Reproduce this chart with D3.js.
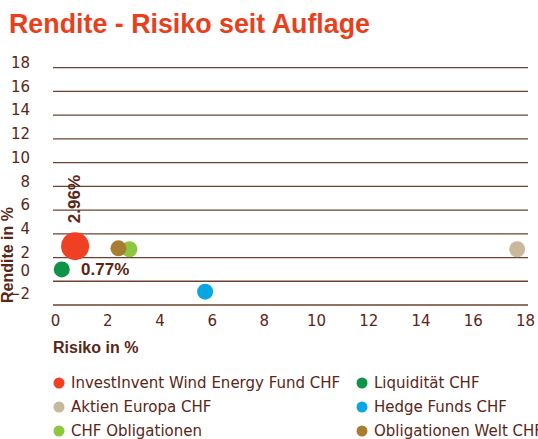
<!DOCTYPE html>
<html>
<head>
<meta charset="utf-8">
<script src="https://cdn.jsdelivr.net/npm/d3@7"></script>
<style>
  body { margin: 0; background: #fff; }
  svg { display: block; }
</style>
</head>
<body>
<div id="chart"></div>
<script>
// data
const funds = ["InvestInvent Wind Energy Fund CHF", "Liquidität CHF", "Aktien Europa CHF",
               "Hedge Funds CHF", "CHF Obligationen", "Obligationen Welt CHF"];
const risk = [0.77, 0.26, 17.7, 5.75, 2.85, 2.43];
const returns = [2.96, 1.0, 2.7, -0.88, 2.7, 2.78];
const colors = ["#f04023", "#0f9447", "#c8b89c", "#0aa5e3", "#8dc63f", "#a87d32"];
const xTicks = [0, 2, 4, 6, 8, 10, 12, 14, 16, 18];
const yTicks = [-2, 0, 2, 4, 6, 8, 10, 12, 14, 16, 18];

const W = 538, H = 439;
const ink = "#5a2616";
const font = "'Liberation Sans', Arial, sans-serif";
const bookFont = "'DejaVu Sans', sans-serif";

const svg = d3.select("#chart").append("svg")
  .attr("width", W)
  .attr("height", H)
  .style("font-family", font);

// title
svg.append("text")
  .attr("x", 9)
  .attr("y", 33)
  .attr("textLength", 361)
  .attr("lengthAdjust", "spacingAndGlyphs")
  .text("Rendite - Risiko seit Auflage")
  .style("fill", "#e8401c")
  .style("font-weight", "bold")
  .style("font-size", "28px");

// scales
const x = d3.scaleLinear().domain([0, 18]).range([55, 525]);
const y = d3.scaleLinear().domain([-2, 18]).range([305, 67.7]);

// grid lines
svg.append("g")
  .selectAll("line")
  .data(yTicks)
  .enter()
  .append("line")
    .attr("x1", 53)
    .attr("x2", 528)
    .attr("y1", d => y(d))
    .attr("y2", d => y(d))
    .attr("stroke", "#6e4232")
    .attr("stroke-width", 1.3);

// y axis labels (sit a little above their lines, the lowest two more so)
const yAxis = svg.append("g")
  .attr("transform", "translate(30,0)")
  .call(d3.axisLeft(y).tickValues(yTicks).tickSize(0).tickPadding(0).tickFormat(d3.format("d")));
yAxis.select(".domain").remove();
yAxis.selectAll("text")
  .attr("y", d => d > 0 ? -5 : -11)
  .style("font-family", bookFont)
  .style("font-size", "15px")
  .style("fill", ink);

// x axis labels
const xAxis = svg.append("g")
  .attr("transform", "translate(0,315)")
  .call(d3.axisBottom(x).tickValues(xTicks).tickSize(0).tickPadding(0).tickFormat(d3.format("d")));
xAxis.select(".domain").remove();
xAxis.selectAll("text")
  .style("font-family", bookFont)
  .style("font-size", "15px")
  .style("fill", ink);

// axis titles
svg.append("text")
  .attr("x", 53)
  .attr("y", 353)
  .text("Risiko in %")
  .style("fill", ink)
  .style("font-weight", "bold")
  .style("font-size", "16px");

svg.append("text")
  .attr("transform", "translate(13,303) rotate(-90)")
  .text("Rendite in %")
  .style("fill", ink)
  .style("font-weight", "bold")
  .style("font-size", "16px");

// points
const pts = funds.map((name, i) => ({ name, risk: risk[i], ret: returns[i], color: colors[i], main: i === 0 }));

svg.append("g")
  .selectAll("circle")
  .data(pts)
  .enter()
  .append("circle")
    .attr("cx", d => x(d.risk))
    .attr("cy", d => y(d.ret))
    .attr("r", d => d.main ? 14 : 8)
    .attr("fill", d => d.color);

// value labels next to the main fund
const main = pts[0];
svg.append("text")
  .attr("transform", `translate(${x(main.risk) + 5},${y(main.ret) - 23}) rotate(-90)`)
  .text(d3.format(".2f")(main.ret) + "%")
  .style("fill", ink)
  .style("font-weight", "bold")
  .style("font-size", "17px");

svg.append("text")
  .attr("x", x(main.risk) + 6)
  .attr("y", y(main.ret) + 29)
  .text(d3.format(".2f")(main.risk) + "%")
  .style("fill", ink)
  .style("font-weight", "bold")
  .style("font-size", "17px");

// legend: two columns, three rows
const legend = svg.append("g")
  .selectAll("g")
  .data(pts)
  .enter()
  .append("g")
    .attr("transform", (d, i) => `translate(${i % 2 ? 362 : 59},${383 + Math.floor(i / 2) * 24})`);

legend.append("circle")
  .attr("r", 5.5)
  .attr("fill", d => d.color);

legend.append("text")
  .attr("x", 12)
  .attr("dy", "0.35em")
  .text(d => d.name)
  .style("font-family", bookFont)
  .style("fill", ink)
  .style("font-size", "15px");
</script>
</body>
</html>
